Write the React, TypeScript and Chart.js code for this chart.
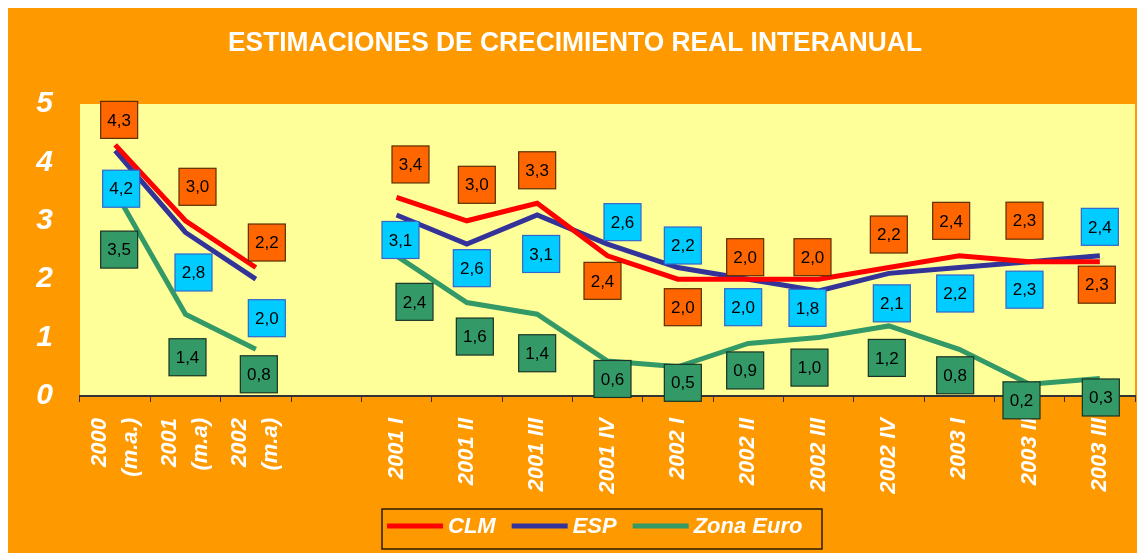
import React, { useEffect, useRef } from "react";
import { Chart, registerables } from "chart.js";

Chart.register(...registerables);

const TITLE = "ESTIMACIONES DE CRECIMIENTO REAL INTERANUAL";

const categories: string[][] = [
  ["2000", "(m.a.)"],
  ["2001", "(m.a)"],
  ["2002", "(m.a)"],
  [""],
  ["2001 I"],
  ["2001 II"],
  ["2001 III"],
  ["2001 IV"],
  ["2002 I"],
  ["2002 II"],
  ["2002 III"],
  ["2002 IV"],
  ["2003 I"],
  ["2003 II"],
  ["2003 III"],
];

const clm = [4.3, 3.0, 2.2, null, 3.4, 3.0, 3.3, 2.4, 2.0, 2.0, 2.0, 2.2, 2.4, 2.3, 2.3];
const esp = [4.2, 2.8, 2.0, null, 3.1, 2.6, 3.1, 2.6, 2.2, 2.0, 1.8, 2.1, 2.2, 2.3, 2.4];
const zonaEuro = [3.5, 1.4, 0.8, null, 2.4, 1.6, 1.4, 0.6, 0.5, 0.9, 1.0, 1.2, 0.8, 0.2, 0.3];

const yMin = 0;
const yMax = 5;
const yStep = 1;

// label box nudges (px) relative to each point: [dx, dy]
const clmNudge = [[4, -25], [12, -34], [11, -25], null, [14, -33], [10, -36], [0, -33], [-5, 25], [5, 28], [-3, -22], [-6, -22], [0, -33], [-8, -35], [-5, -41], [-3, 23]];
const espNudge = [[6, 38], [8, 40], [11, 39], null, [4, 25], [5, 24], [4, 39], [15, -22], [5, -22], [-5, 28], [-11, 17], [3, 30], [-4, 26], [-5, 28], [0, -29]];
const euroNudge = [[4, 58], [2, 43], [3, 25], null, [18, 46], [8, 34], [0, 39], [5, 18], [5, 16], [-3, 27], [-9, 30], [-2, 32], [-4, 26], [-8, 16], [1, 19]];

const FONT = '"Liberation Sans", Arial, Helvetica, sans-serif';
const ORANGE = "#FF9900";
const PLOT_BG = "#FFFF99";

const boxStyles = [
  { fill: "#FF6600", stroke: "#5c2e00" },
  { fill: "#00CCFF", stroke: "#3366cc" },
  { fill: "#339966", stroke: "#1a3324" },
];
const nudges = [clmNudge, espNudge, euroNudge];

const backgroundPlugin = {
  id: "bgPlugin",
  beforeDraw(chart: any) {
    const { ctx, chartArea } = chart;
    ctx.save();
    ctx.fillStyle = ORANGE;
    ctx.fillRect(0, 0, chart.width, chart.height);
    ctx.fillStyle = PLOT_BG;
    ctx.fillRect(chartArea.left, chartArea.top, chartArea.right - chartArea.left, chartArea.bottom - chartArea.top);
    ctx.restore();
  },
};

const xLabelPlugin = {
  id: "xLabels",
  beforeDatasetsDraw(chart: any) {
    const { ctx, chartArea } = chart;
    const xs = chart.scales.x;
    const labels = chart.data.labels as string[][];
    ctx.save();
    ctx.fillStyle = "#FFFFFF";
    ctx.font = `italic bold 22px ${FONT}`;
    ctx.textAlign = "right";
    ctx.textBaseline = "middle";
    const lh = 31;
    labels.forEach((lines, i) => {
      const px = xs.getPixelForValue(i);
      const n = lines.length;
      lines.forEach((line, j) => {
        const cx = px + (j - (n - 1) / 2) * lh;
        ctx.save();
        ctx.translate(cx, chartArea.bottom + 22);
        ctx.rotate(-Math.PI / 2);
        ctx.fillText(line, 0, 0);
        ctx.restore();
      });
    });
    ctx.restore();
  },
};

const dataLabelPlugin = {
  id: "dataLabels",
  afterDatasetsDraw(chart: any) {
    const { ctx } = chart;
    ctx.save();
    ctx.font = `17px ${FONT}`;
    ctx.textAlign = "center";
    ctx.textBaseline = "middle";
    chart.data.datasets.forEach((ds: any, di: number) => {
      const meta = chart.getDatasetMeta(di);
      ds.data.forEach((v: number | null, i: number) => {
        if (v === null || v === undefined) return;
        const pt = meta.data[i];
        const nd = nudges[di][i] || [0, 0];
        const cx = pt.x + nd[0];
        const cy = pt.y + nd[1];
        const s = 37;
        ctx.fillStyle = boxStyles[di].fill;
        ctx.fillRect(cx - s / 2, cy - s / 2, s, s);
        ctx.lineWidth = 1.2;
        ctx.strokeStyle = boxStyles[di].stroke;
        ctx.strokeRect(cx - s / 2, cy - s / 2, s, s);
        ctx.fillStyle = "#000000";
        ctx.fillText(v.toFixed(1).replace(".", ","), cx, cy + 1);
      });
    });
    ctx.restore();
  },
};

const titleLegendPlugin = {
  id: "titleLegend",
  afterDraw(chart: any) {
    const { ctx } = chart;
    ctx.save();
    // title
    ctx.font = `bold 27px ${FONT}`;
    const w = ctx.measureText(TITLE).width;
    const target = 694;
    ctx.translate(567, 42.5);
    ctx.scale(target / w, 1);
    ctx.textAlign = "center";
    ctx.textBaseline = "alphabetic";
    ctx.fillStyle = "#FFFFFF";
    ctx.fillText(TITLE, 0, 0);
    ctx.restore();

    // legend
    ctx.save();
    ctx.strokeStyle = "#2b1d00";
    ctx.lineWidth = 1.5;
    ctx.strokeRect(374, 501, 440, 40);
    ctx.font = `italic bold 22px ${FONT}`;
    ctx.textAlign = "left";
    ctx.textBaseline = "middle";
    let x = 379;
    const y = 518;
    chart.data.datasets.forEach((ds: any) => {
      ctx.strokeStyle = ds.borderColor;
      ctx.lineWidth = 5;
      ctx.beginPath();
      ctx.moveTo(x, y);
      ctx.lineTo(x + 56, y);
      ctx.stroke();
      ctx.fillStyle = "#FFFFFF";
      ctx.fillText(ds.label, x + 61, y + 1);
      x += 61 + ctx.measureText(ds.label).width + 16;
    });
    ctx.restore();
  },
};

export default function App() {
  const ref = useRef<HTMLCanvasElement | null>(null);
  useEffect(() => {
    if (!ref.current) return;
    const mk = (label: string, data: (number | null)[], color: string) => ({
      label,
      data,
      borderColor: color,
      backgroundColor: color,
      borderWidth: 5,
      pointRadius: 0,
      pointHoverRadius: 0,
      tension: 0,
      fill: false,
      spanGaps: false,
    });
    const chart = new Chart(ref.current, {
      type: "line",
      data: {
        labels: categories as any,
        datasets: [
          mk("CLM", clm, "#FF0000"),
          mk("ESP", esp, "#333399"),
          mk("Zona Euro", zonaEuro, "#339966"),
        ],
      },
      options: {
        responsive: false,
        animation: false,
        events: [],
        layout: { padding: { top: 96, right: 10, bottom: 0, left: 0 } },
        plugins: {
          legend: { display: false },
          title: { display: false },
          tooltip: { enabled: false },
        },
        scales: {
          x: {
            type: "category",
            offset: true,
            grid: {
              offset: true,
              drawOnChartArea: false,
              drawTicks: true,
              tickLength: 6,
              color: "#333333",
              lineWidth: 1,
            },
            border: { display: true, color: "#333333", width: 2 },
            ticks: { display: false },
            afterFit(scale: any) {
              scale.height = 157;
            },
          },
          y: {
            min: yMin,
            max: yMax,
            grid: { display: false, drawTicks: false },
            border: { display: false },
            ticks: {
              stepSize: yStep,
              color: "#FFFFFF",
              padding: 27,
              font: { size: 30, weight: "bold", style: "italic", family: FONT },
            },
            afterFit(scale: any) {
              scale.width = 72;
            },
          },
        },
      },
      plugins: [backgroundPlugin, xLabelPlugin, dataLabelPlugin, titleLegendPlugin],
    });
    return () => chart.destroy();
  }, []);
  return (
    <div style={{ width: 1137, height: 545 }}>
      <canvas ref={ref} width={1137} height={545} style={{ display: "block" }} />
    </div>
  );
}
